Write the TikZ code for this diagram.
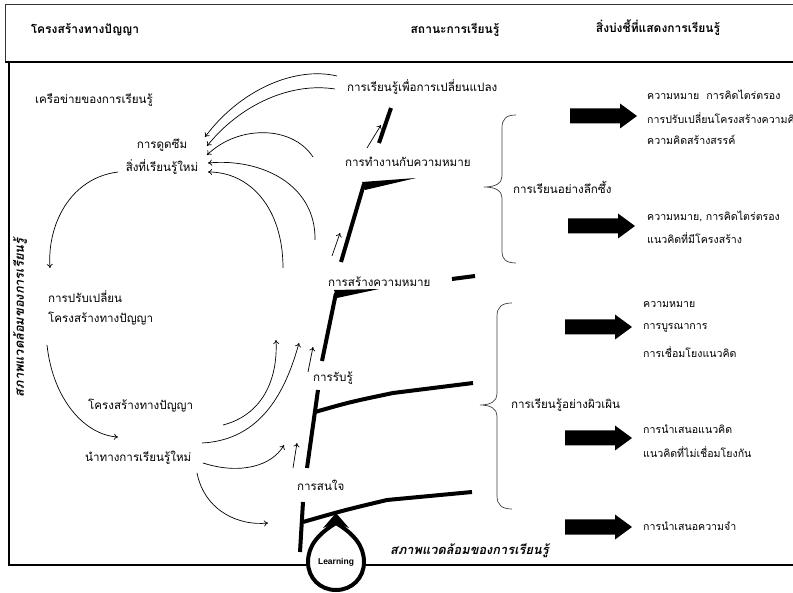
\documentclass[tikz,border=0pt]{standalone}
\usepackage{fontspec}
\newfontfamily\thai[Script=Thai]{Loma}
\newfontfamily\lib{Liberation Sans}
\usetikzlibrary{arrows.meta}
\begin{document}
\begin{tikzpicture}[x=1pt,y=-1pt,
  txt/.style={font=\thai\fontsize{11.6}{13}\selectfont, inner sep=0pt, anchor=west},
  ctxt/.style={font=\thai\fontsize{11.6}{13}\selectfont, inner sep=0pt},
  hdr/.style={font=\thai\bfseries\fontsize{12}{14}\selectfont, inner sep=0pt},
  sml/.style={font=\thai\fontsize{10.6}{12}\selectfont, inner sep=0pt, anchor=west},
  envtxt/.style={font=\thai\bfseries\itshape\fontsize{12.8}{14}\selectfont, inner sep=0pt},
  thinarrow/.style={line width=0.7pt, -{To[length=4pt,width=6pt]}},
  stair/.style={line width=4pt, line join=round},
  bracepath/.style={line width=0.7pt, draw=black!75},
  pics/blockarrow/.style={code={
    \fill (0,-7.5) -- (50,-7.5) -- (50,-12.5) -- (67,0) -- (50,12.5) -- (50,7.5) -- (0,7.5) -- cycle;}}
]
\useasboundingbox (0,0) rectangle (793,593);
% frame
\draw[line width=1pt, draw=black!80] (5,62) -- (5,5) -- (793,5);
\draw[line width=2.6pt] (5,62) -- (793,62);
\draw[line width=1.3pt] (9,62) -- (9,565) -- (793,565);

% headers
\node[hdr] (h1) at (85,30) {โครงสร้างทางปัญญา};
\node[hdr] (h2) at (455,30) {สถานะการเรียนรู้};
\node[hdr] (h3) at (658,28) {สิ่งบ่งชี้ที่แสดงการเรียนรู้};

% left column
\node[txt] (net) at (35,100) {เครือข่ายของการเรียนรู้};
\node[ctxt] (abs1) at (162,145) {การดูดซึม};
\node[ctxt] (abs2) at (162,167) {สิ่งที่เรียนรู้ใหม่};
\node[txt] (adj1) at (48,297) {การปรับเปลี่ยน};
\node[txt] (adj2) at (48,319) {โครงสร้างทางปัญญา};
\node[txt] (gd1) at (88,406) {โครงสร้างทางปัญญา};
\node[txt] (gd2) at (85,458) {นำทางการเรียนรู้ใหม่};
\node[envtxt, rotate=90] (envl) at (20,318) {สภาพแวดล้อมของการเรียนรู้};

% middle labels
\node[txt] (s5) at (347,87) {การเรียนรู้เพื่อการเปลี่ยนแปลง};
\node[txt] (s4) at (345,162) {การทำงานกับความหมาย};
\node[txt] (s3) at (328,282) {การสร้างความหมาย};
\node[txt] (s2) at (313,378) {การรับรู้};
\node[txt] (s1) at (297,485) {การสนใจ};
\node[envtxt, anchor=west] (envb) at (390,551) {สภาพแวดล้อมของการเรียนรู้};

% staircase
\draw[stair] (379,143) -- (391,108);
\draw[stair] (341,262) -- (364,184);
\fill (362,182) -- (416,178) -- (365,190) -- cycle;
\draw[stair] (452,279) -- (475,276);
\draw[stair] (322,361) -- (336,293);
\fill (334,290) -- (379,289) -- (337,298) -- cycle;
\draw[stair] (307,468) -- (318,390);
\draw[stair] (315,412) .. controls (350,402) .. (393,393) -- (473,383);
\draw[stair] (300,552) -- (303,502);
\draw[stair] (303,522) .. controls (345,510) .. (387,500) -- (472,492);

% learning loop
\draw[line width=4pt, fill=white] (336,523) .. controls (318,534) and (308,546) .. (308,562)
  .. controls (308,578) and (320,590) .. (336,590) .. controls (352,590) and (364,578) .. (364,562)
  .. controls (364,546) and (354,534) .. (336,523) -- cycle;
\fill (336,513) -- (349,528) -- (336,523) -- (323,528) -- cycle;
\node[font=\lib\bfseries\fontsize{8.5}{9}\selectfont, inner sep=0pt] (learn) at (336,562) {Learning};

% thin arrows to absorption
\coordinate (t1) at (205,137);
\coordinate (t2) at (207,146);
\coordinate (t3) at (207,155);
\coordinate (t4) at (208,163);
\coordinate (t5) at (208,172);
\draw[thinarrow] (337,76) .. controls (295,66) and (240,90) .. (t1);
\draw[thinarrow] (335,89) .. controls (290,82) and (240,105) .. (t2);
\draw[thinarrow] (313,157) .. controls (292,125) and (238,125) .. (t3);
\draw[thinarrow] (315,240) .. controls (316,185) and (262,158) .. (t4);
\draw[thinarrow] (283,268) .. controls (283,208) and (250,172) .. (t5);

% left cycle
\coordinate (c1) at (50,268);
\coordinate (c2) at (118,437);
\draw[thinarrow] (118,172) .. controls (70,178) and (47,225) .. (c1);
\draw[thinarrow] (47,345) .. controls (53,400) and (85,435) .. (c2);

% arrows from guide
\coordinate (g1) at (276,340);
\coordinate (g2) at (299,343);
\coordinate (g3) at (313,347);
\coordinate (g4) at (284,445);
\coordinate (g5) at (297,443);
\coordinate (g6) at (268,523);
\draw[thinarrow] (223,425) .. controls (262,415) and (278,380) .. (g1);
\draw[thinarrow] (202,443) .. controls (262,440) and (286,390) .. (g2);
\draw[thinarrow] (308,372) -- (g3);
\draw[thinarrow] (203,463) .. controls (240,475) and (272,466) .. (g4);
\draw[thinarrow] (293,468) -- (g5);
\draw[thinarrow] (197,473) .. controls (205,512) and (240,526) .. (g6);
\coordinate (g7) at (340,233);
\coordinate (g8) at (381,125);
\draw[thinarrow] (332,256) -- (g7);
\draw[thinarrow] (367,148) -- (g8);

% braces
\draw[bracepath] (516,115) .. controls (506,115) and (502,119) .. (502,128) -- (502,176)
  .. controls (502,183) and (496,187) .. (484,187) .. controls (496,187) and (502,191) .. (502,198)
  -- (502,252) .. controls (502,259) and (506,263) .. (516,263);
\draw[bracepath] (512,303) .. controls (502,303) and (497,307) .. (497,316) -- (497,394)
  .. controls (497,401) and (491,405) .. (480,405) .. controls (491,405) and (497,409) .. (497,416)
  -- (497,496) .. controls (497,505) and (502,509) .. (512,509);
\node[txt] (deep) at (513,187) {การเรียนอย่างลึกซึ้ง};
\node[txt] (surf) at (511,405) {การเรียนรู้อย่างผิวเผิน};

% block arrows
\pic (a1) at (570,116) {blockarrow};
\pic (a2) at (568,226) {blockarrow};
\pic (a3) at (565,327) {blockarrow};
\pic (a4) at (565,438) {blockarrow};
\pic (a5) at (565,527) {blockarrow};

% indicator texts
\node[sml] (r1) at (647,95) {ความหมาย\ \ การคิดไตร่ตรอง};
\node[sml] (r2) at (647,118) {การปรับเปลี่ยนโครงสร้างความคิด};
\node[sml] (r3) at (647,140) {ความคิดสร้างสรรค์};
\node[sml] (r4) at (647,216) {ความหมาย, การคิดไตร่ตรอง};
\node[sml] (r5) at (647,238) {แนวคิดที่มีโครงสร้าง};
\node[sml] (r6) at (643,305) {ความหมาย};
\node[sml] (r7) at (643,328) {การบูรณาการ};
\node[sml] (r8) at (643,352) {การเชื่อมโยงแนวคิด};
\node[sml] (r9) at (643,429) {การนำเสนอแนวคิด};
\node[sml] (r10) at (643,452) {แนวคิดที่ไม่เชื่อมโยงกัน};
\node[sml] (r11) at (643,526) {การนำเสนอความจำ};
\end{tikzpicture}
\end{document}
